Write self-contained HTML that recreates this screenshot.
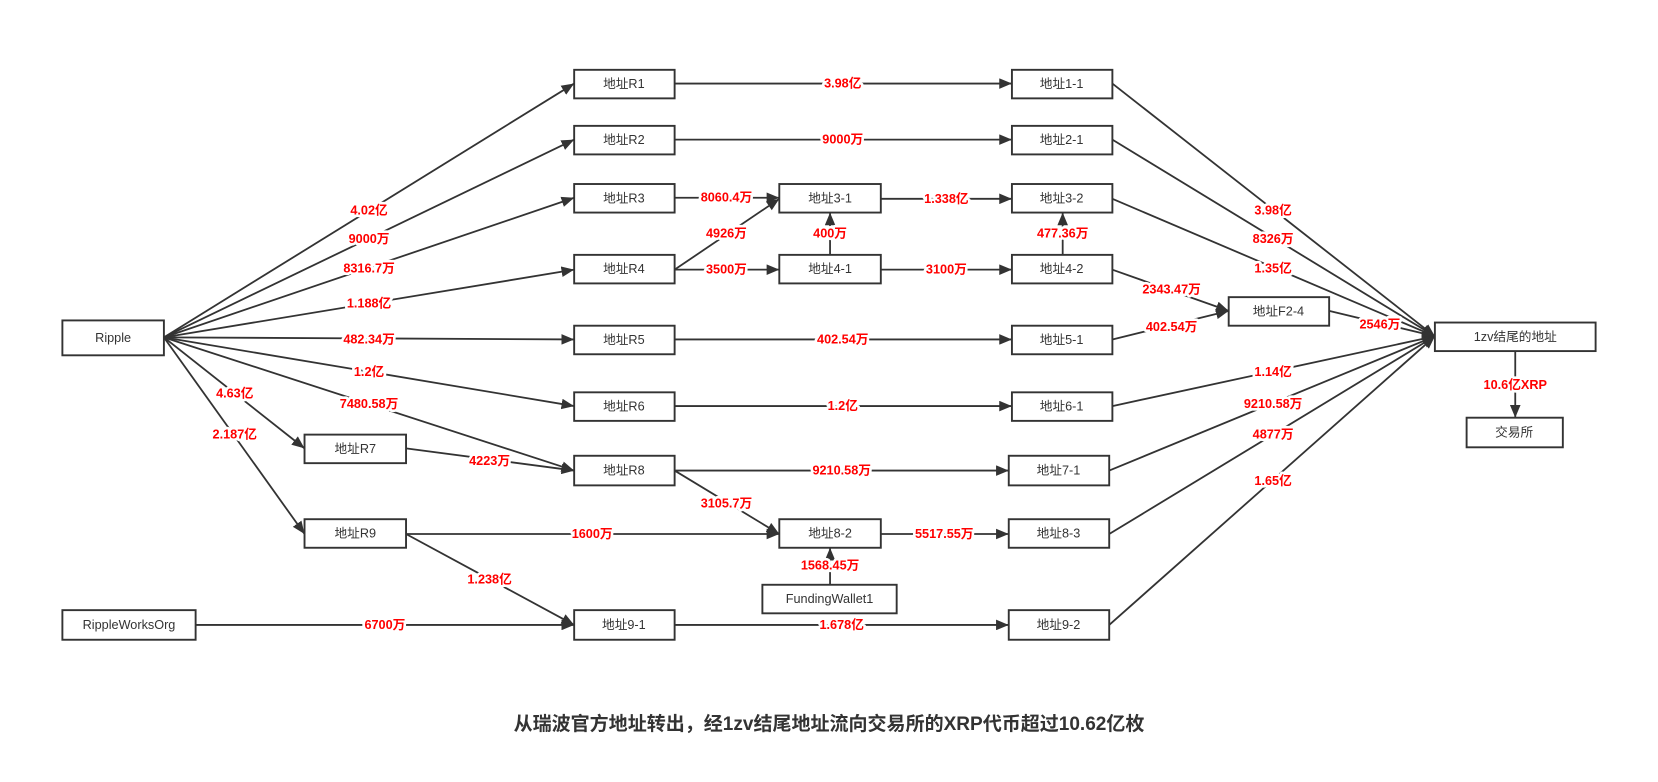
<!DOCTYPE html>
<html><head><meta charset="utf-8"><style>
html,body{margin:0;padding:0;background:#fff;}
svg{display:block}
.n rect{fill:#fff;stroke:#333;stroke-width:1.8}
.n text{font-family:"Liberation Sans","Noto Sans CJK SC",sans-serif;font-size:12px;fill:#333;text-anchor:middle;dominant-baseline:central}
.e line{stroke:#333;stroke-width:1.7;marker-end:url(#a)}
.l text{font-family:"Liberation Sans","Noto Sans CJK SC",sans-serif;font-size:12px;font-weight:bold;fill:#f00;text-anchor:middle;dominant-baseline:central;stroke:#fff;stroke-width:5;paint-order:stroke;stroke-linejoin:round}
</style></head><body>
<svg width="1658" height="782" viewBox="0 0 1568 739.5">
<defs><marker id="a" viewBox="0 0 12 10" refX="12" refY="5" markerWidth="12" markerHeight="10" orient="auto" markerUnits="userSpaceOnUse"><path d="M0,0L12,5L0,10z" fill="#333"/></marker></defs>
<g class="e">
<line x1="155" y1="319" x2="543" y2="79"/>
<line x1="155" y1="319" x2="543" y2="132"/>
<line x1="155" y1="319" x2="543" y2="187"/>
<line x1="155" y1="319" x2="543" y2="255"/>
<line x1="155" y1="319" x2="543" y2="321"/>
<line x1="155" y1="319" x2="543" y2="384"/>
<line x1="155" y1="319" x2="543" y2="445"/>
<line x1="155" y1="319" x2="288" y2="424"/>
<line x1="155" y1="319" x2="288" y2="505"/>
<line x1="384" y1="424" x2="543" y2="445"/>
<line x1="384" y1="505" x2="737" y2="505"/>
<line x1="384" y1="505" x2="543" y2="591"/>
<line x1="185" y1="591" x2="543" y2="591"/>
<line x1="638" y1="79" x2="957" y2="79"/>
<line x1="638" y1="132" x2="957" y2="132"/>
<line x1="638" y1="187" x2="737" y2="187"/>
<line x1="638" y1="255" x2="737" y2="188"/>
<line x1="638" y1="255" x2="737" y2="255"/>
<line x1="785" y1="241" x2="785" y2="201"/>
<line x1="833" y1="188" x2="957" y2="188"/>
<line x1="833" y1="255" x2="957" y2="255"/>
<line x1="1005" y1="241" x2="1005" y2="201"/>
<line x1="1052" y1="255" x2="1162" y2="294"/>
<line x1="1052" y1="321" x2="1162" y2="294"/>
<line x1="638" y1="321" x2="957" y2="321"/>
<line x1="638" y1="384" x2="957" y2="384"/>
<line x1="638" y1="445" x2="954" y2="445"/>
<line x1="638" y1="445" x2="737" y2="505"/>
<line x1="833" y1="505" x2="954" y2="505"/>
<line x1="785" y1="553" x2="785" y2="518"/>
<line x1="638" y1="591" x2="954" y2="591"/>
<line x1="1052" y1="79" x2="1357" y2="318"/>
<line x1="1052" y1="132" x2="1357" y2="318"/>
<line x1="1052" y1="188" x2="1357" y2="318"/>
<line x1="1257" y1="294" x2="1357" y2="318"/>
<line x1="1052" y1="384" x2="1357" y2="318"/>
<line x1="1049" y1="445" x2="1357" y2="318"/>
<line x1="1049" y1="505" x2="1357" y2="318"/>
<line x1="1049" y1="591" x2="1357" y2="318"/>
<line x1="1433" y1="332" x2="1433" y2="395"/>
</g>
<g class="n">
<rect x="59" y="303" width="96" height="33"/><text x="107" y="319.5">Ripple</text>
<rect x="59" y="577" width="126" height="28"/><text x="122" y="591">RippleWorksOrg</text>
<rect x="543" y="66" width="95" height="27"/><text x="590" y="79.5">地址R1</text>
<rect x="543" y="119" width="95" height="27"/><text x="590" y="132.5">地址R2</text>
<rect x="543" y="174" width="95" height="27"/><text x="590" y="187.5">地址R3</text>
<rect x="543" y="241" width="95" height="27"/><text x="590" y="254.5">地址R4</text>
<rect x="543" y="308" width="95" height="27"/><text x="590" y="321.5">地址R5</text>
<rect x="543" y="371" width="95" height="27"/><text x="590" y="384.5">地址R6</text>
<rect x="543" y="431" width="95" height="28"/><text x="590" y="445">地址R8</text>
<rect x="543" y="577" width="95" height="28"/><text x="590" y="591">地址9-1</text>
<rect x="288" y="411" width="96" height="27"/><text x="336" y="424.5">地址R7</text>
<rect x="288" y="491" width="96" height="27"/><text x="336" y="504.5">地址R9</text>
<rect x="737" y="174" width="96" height="27"/><text x="785" y="187.5">地址3-1</text>
<rect x="737" y="241" width="96" height="27"/><text x="785" y="254.5">地址4-1</text>
<rect x="737" y="491" width="96" height="27"/><text x="785" y="504.5">地址8-2</text>
<rect x="721" y="553" width="127" height="27"/><text x="784.5" y="566.5">FundingWallet1</text>
<rect x="957" y="66" width="95" height="27"/><text x="1004" y="79.5">地址1-1</text>
<rect x="957" y="119" width="95" height="27"/><text x="1004" y="132.5">地址2-1</text>
<rect x="957" y="174" width="95" height="27"/><text x="1004" y="187.5">地址3-2</text>
<rect x="957" y="241" width="95" height="27"/><text x="1004" y="254.5">地址4-2</text>
<rect x="957" y="308" width="95" height="27"/><text x="1004" y="321.5">地址5-1</text>
<rect x="957" y="371" width="95" height="27"/><text x="1004" y="384.5">地址6-1</text>
<rect x="954" y="431" width="95" height="28"/><text x="1001" y="445">地址7-1</text>
<rect x="954" y="491" width="95" height="27"/><text x="1001" y="504.5">地址8-3</text>
<rect x="954" y="577" width="95" height="28"/><text x="1001" y="591">地址9-2</text>
<rect x="1162" y="281" width="95" height="27"/><text x="1209" y="294.5">地址F2-4</text>
<rect x="1357" y="305" width="152" height="27"/><text x="1433" y="318.5">1zv结尾的地址</text>
<rect x="1387" y="395" width="91" height="28"/><text x="1432" y="409">交易所</text>
</g>
<g class="l">
<text x="349" y="199">4.02亿</text>
<text x="349" y="226">9000万</text>
<text x="349" y="254">8316.7万</text>
<text x="349" y="287">1.188亿</text>
<text x="349" y="321">482.34万</text>
<text x="349" y="352">1.2亿</text>
<text x="349" y="382">7480.58万</text>
<text x="222" y="372">4.63亿</text>
<text x="222" y="411">2.187亿</text>
<text x="463" y="436">4223万</text>
<text x="560" y="505">1600万</text>
<text x="463" y="548">1.238亿</text>
<text x="364" y="591">6700万</text>
<text x="797" y="79">3.98亿</text>
<text x="797" y="132">9000万</text>
<text x="687" y="187">8060.4万</text>
<text x="687" y="221">4926万</text>
<text x="687" y="255">3500万</text>
<text x="785" y="221">400万</text>
<text x="895" y="188">1.338亿</text>
<text x="895" y="255">3100万</text>
<text x="1005" y="221">477.36万</text>
<text x="1108" y="274">2343.47万</text>
<text x="1108" y="309">402.54万</text>
<text x="797" y="321">402.54万</text>
<text x="797" y="384">1.2亿</text>
<text x="796" y="445">9210.58万</text>
<text x="687" y="476">3105.7万</text>
<text x="893" y="505">5517.55万</text>
<text x="785" y="535">1568.45万</text>
<text x="796" y="591">1.678亿</text>
<text x="1204" y="199">3.98亿</text>
<text x="1204" y="226">8326万</text>
<text x="1204" y="254">1.35亿</text>
<text x="1305" y="307">2546万</text>
<text x="1204" y="352">1.14亿</text>
<text x="1204" y="382">9210.58万</text>
<text x="1204" y="411">4877万</text>
<text x="1204" y="455">1.65亿</text>
<text x="1433" y="364">10.6亿XRP</text>
</g>
<text x="784" y="685" style="font-family:'Liberation Sans','Noto Sans CJK SC',sans-serif;font-size:18px;font-weight:bold;fill:#333;text-anchor:middle;dominant-baseline:central">从瑞波官方地址转出，经1zv结尾地址流向交易所的XRP代币超过10.62亿枚</text>
</svg>
</body></html>
